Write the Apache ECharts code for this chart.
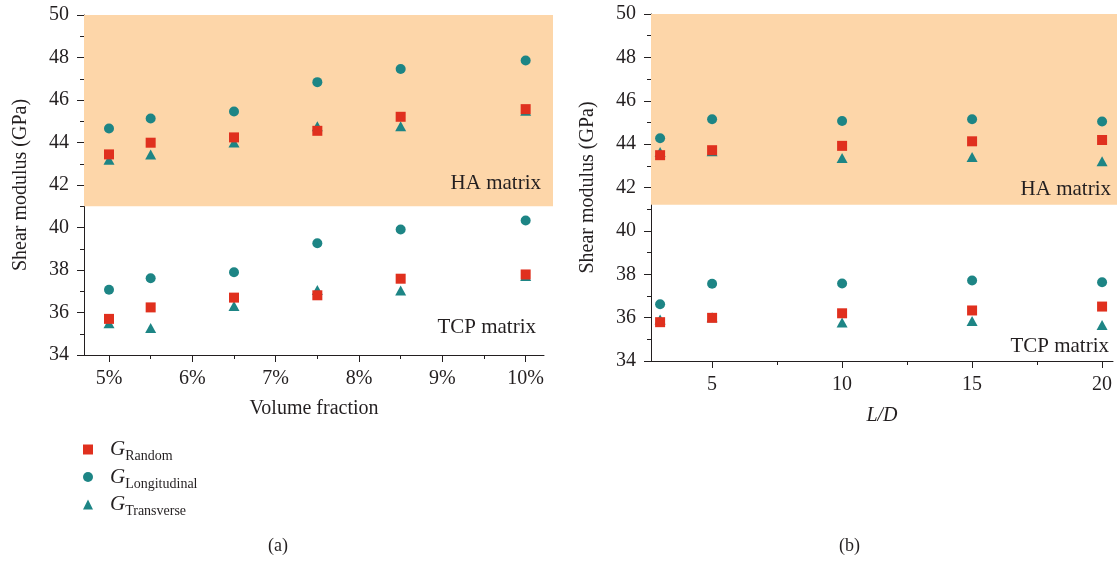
<!DOCTYPE html>
<html>
<head>
<meta charset="utf-8">
<script src="https://cdn.jsdelivr.net/npm/echarts@6/dist/echarts.min.js"></script>
<style>html,body{margin:0;padding:0;background:#fff}#c{width:1117px;height:561px}</style>
</head>
<body>
<div id="c"></div>
<script>
// ---- data ----
var volFrac = [5, 5.5, 6.5, 7.5, 8.5, 10];
var aRandomHA  = [43.44, 43.99, 44.24, 44.55, 45.21, 45.57];
var aLongHA    = [44.66, 45.13, 45.46, 46.84, 47.46, 47.86];
var aTransHA   = [43.19, 43.44, 44.00, 44.77, 44.76, 45.50];
var aRandomTCP = [35.70, 36.24, 36.70, 36.81, 37.59, 37.79];
var aLongTCP   = [37.07, 37.61, 37.89, 39.26, 39.91, 40.33];
var aTransTCP  = [35.49, 35.27, 36.31, 37.06, 37.03, 37.72];

var ratioLD = [3, 5, 10, 15, 20];
var bRandomHA  = [43.49, 43.72, 43.92, 44.13, 44.19];
var bLongHA    = [44.27, 45.15, 45.07, 45.15, 45.04];
var bTransHA   = [43.64, 43.67, 43.36, 43.41, 43.21];
var bRandomTCP = [35.79, 35.99, 36.20, 36.33, 36.51];
var bLongTCP   = [36.62, 37.56, 37.57, 37.71, 37.63];
var bTransTCP  = [35.91, 36.02, 35.77, 35.85, 35.66];

var volTicks = [5, 6, 7, 8, 9, 10];
var volMinor = [5.5, 6.5, 7.5, 8.5, 9.5];
var ldTicks = [5, 10, 15, 20];
var ldMinor = [7.5, 12.5, 17.5];
var yTicksMin = 34, yTicksMax = 50, yStep = 2;
var haBounds = [41, 50], haBoundsB = [41.2, 50];
var seriesNames = ['Random', 'Longitudinal', 'Transverse'];

// ---- styling ----
var FONT = 'Liberation Serif';
var TXT = '#231f20';
var RED = '#e0301e', TEAL = '#1d8585', SHADE = '#fdd6a9';

function pts(xs, a, b) {
  var out = [];
  xs.forEach(function (x, i) { out.push([x, a[i]]); });
  xs.forEach(function (x, i) { out.push([x, b[i]]); });
  return out;
}

function yAxisDef(gi) {
  return {
    gridIndex: gi, type: 'value', min: yTicksMin, max: yTicksMax, interval: yStep,
    name: 'Shear modulus (GPa)', nameLocation: 'middle', nameGap: 53,
    nameTextStyle: { fontFamily: FONT, fontSize: 20, color: TXT },
    axisLine: { show: true, lineStyle: { color: TXT, width: 1 } },
    axisTick: { show: true, length: 7, lineStyle: { color: TXT } },
    minorTick: { show: true, splitNumber: 2, length: 4, lineStyle: { color: TXT } },
    axisLabel: { fontFamily: FONT, fontSize: 20, color: TXT, margin: 15 },
    splitLine: { show: false }
  };
}
function hiddenAxis(gi, min, max) {
  return { gridIndex: gi, type: 'value', min: min, max: max, show: false };
}
function minorXAxis(gi, min, max, vals) {
  return {
    gridIndex: gi, type: 'value', min: min, max: max, position: 'bottom',
    axisLine: { show: false, onZero: false },
    axisTick: { show: true, length: 4, customValues: vals, lineStyle: { color: TXT } },
    axisLabel: { show: false }, splitLine: { show: false }
  };
}

var option = {
  backgroundColor: '#fff',
  animation: false,
  grid: [
    { left: 84, top: 15, width: 460, height: 340 },
    { left: 84, top: 15, width: 469, height: 340 },
    { left: 651, top: 14, width: 462, height: 347 },
    { left: 651, top: 14, width: 466, height: 347 }
  ],
  xAxis: [
    { // 0: left main
      gridIndex: 0, type: 'value', min: 4.70, max: 10.22, position: 'bottom',
      name: 'Volume fraction', nameLocation: 'middle', nameGap: 44,
      nameTextStyle: { fontFamily: FONT, fontSize: 20, color: TXT },
      axisLine: { show: true, onZero: false, lineStyle: { color: TXT } },
      axisTick: { show: true, length: 7, customValues: volTicks, lineStyle: { color: TXT } },
      axisLabel: { fontFamily: FONT, fontSize: 20, color: TXT, margin: 14, customValues: volTicks,
        formatter: function (v) { return v + '%'; } },
      splitLine: { show: false }
    },
    minorXAxis(0, 4.70, 10.22, volMinor), // 1
    hiddenAxis(1, 0, 1), // 2: left shading overlay
    { // 3: right main
      gridIndex: 2, type: 'value', min: 2.65, max: 20.42, position: 'bottom',
      name: 'L/D', nameLocation: 'middle', nameGap: 45,
      nameTextStyle: { fontFamily: FONT, fontSize: 20, color: TXT, fontStyle: 'italic' },
      axisLine: { show: true, onZero: false, lineStyle: { color: TXT } },
      axisTick: { show: true, length: 7, customValues: ldTicks, lineStyle: { color: TXT } },
      axisLabel: { fontFamily: FONT, fontSize: 20, color: TXT, margin: 14, customValues: ldTicks },
      splitLine: { show: false }
    },
    minorXAxis(2, 2.65, 20.42, ldMinor), // 4
    hiddenAxis(3, 0, 1) // 5: right shading overlay
  ],
  yAxis: [
    yAxisDef(0),
    hiddenAxis(1, yTicksMin, yTicksMax),
    yAxisDef(2),
    hiddenAxis(3, yTicksMin, yTicksMax)
  ],
  legend: {
    orient: 'vertical', left: 83, top: 439, itemGap: 3, padding: 0,
    itemWidth: 10, itemHeight: 10,
    data: seriesNames,
    textStyle: {
      color: TXT, fontFamily: FONT,
      rich: {
        g: { fontFamily: FONT, fontSize: 21, fontStyle: 'italic', color: TXT, padding: [0, 0, 0, 12] },
        s: { fontFamily: FONT, fontSize: 14, color: TXT, padding: [14, 0, 0, 0] }
      }
    },
    formatter: function (n) { return '{g|G}{s|' + n + '}'; }
  },
  graphic: [
    { type: 'text', left: 268, top: 537, style: { text: '(a)', font: '18px "Liberation Serif"', fill: TXT } },
    { type: 'text', left: 839, top: 537, style: { text: '(b)', font: '18px "Liberation Serif"', fill: TXT } }
  ],
  series: [
    // shading overlays
    {
      type: 'line', xAxisIndex: 2, yAxisIndex: 1, data: [[0, 34]], symbol: 'none', silent: true,
      lineStyle: { opacity: 0 }, z: 0,
      markArea: {
        silent: true,
        data: [
          [{ yAxis: haBounds[0], itemStyle: { color: SHADE, opacity: 1 },
             label: { show: true, position: 'insideBottomRight', distance: 12, formatter: 'HA matrix',
               fontFamily: FONT, fontSize: 21, color: TXT } },
           { yAxis: haBounds[1] }],
          [{ yAxis: yTicksMin, itemStyle: { color: 'rgba(0,0,0,0)' },
             label: { show: true, position: 'insideBottomRight', distance: 17, formatter: 'TCP matrix',
               fontFamily: FONT, fontSize: 21, color: TXT } },
           { yAxis: haBounds[0] }]
        ]
      }
    },
    {
      type: 'line', xAxisIndex: 5, yAxisIndex: 3, data: [[0, 34]], symbol: 'none', silent: true,
      lineStyle: { opacity: 0 }, z: 0,
      markArea: {
        silent: true,
        data: [
          [{ yAxis: haBoundsB[0], itemStyle: { color: SHADE, opacity: 1 },
             label: { show: true, position: 'insideBottomRight', distance: 5, offset: [-1, 0], formatter: 'HA matrix',
               fontFamily: FONT, fontSize: 21, color: TXT } },
           { yAxis: haBoundsB[1] }],
          [{ yAxis: yTicksMin, itemStyle: { color: 'rgba(0,0,0,0)' },
             label: { show: true, position: 'insideBottomRight', distance: 4, offset: [-4, 0], formatter: 'TCP matrix',
               fontFamily: FONT, fontSize: 21, color: TXT } },
           { yAxis: haBoundsB[0] }]
        ]
      }
    },
    // left panel
    { name: 'Random', type: 'scatter', xAxisIndex: 0, yAxisIndex: 0, symbol: 'rect', symbolSize: 10,
      itemStyle: { color: RED, opacity: 1 }, z: 4, data: pts(volFrac, aRandomHA, aRandomTCP) },
    { name: 'Longitudinal', type: 'scatter', xAxisIndex: 0, yAxisIndex: 0, symbol: 'circle', symbolSize: 10,
      itemStyle: { color: TEAL, opacity: 1 }, z: 4, data: pts(volFrac, aLongHA, aLongTCP) },
    { name: 'Transverse', type: 'scatter', xAxisIndex: 0, yAxisIndex: 0, symbol: 'triangle', symbolSize: [11, 10],
      itemStyle: { color: TEAL, opacity: 1 }, z: 3, data: pts(volFrac, aTransHA, aTransTCP) },
    // right panel
    { name: 'Random', type: 'scatter', xAxisIndex: 3, yAxisIndex: 2, symbol: 'rect', symbolSize: 10,
      itemStyle: { color: RED, opacity: 1 }, z: 4, data: pts(ratioLD, bRandomHA, bRandomTCP) },
    { name: 'Longitudinal', type: 'scatter', xAxisIndex: 3, yAxisIndex: 2, symbol: 'circle', symbolSize: 10,
      itemStyle: { color: TEAL, opacity: 1 }, z: 4, data: pts(ratioLD, bLongHA, bLongTCP) },
    { name: 'Transverse', type: 'scatter', xAxisIndex: 3, yAxisIndex: 2, symbol: 'triangle', symbolSize: [11, 10],
      itemStyle: { color: TEAL, opacity: 1 }, z: 3, data: pts(ratioLD, bTransHA, bTransTCP) }
  ]
};

var chart = echarts.init(document.getElementById('c'), null, { renderer: 'canvas' });
chart.setOption(option);
</script>
</body>
</html>
